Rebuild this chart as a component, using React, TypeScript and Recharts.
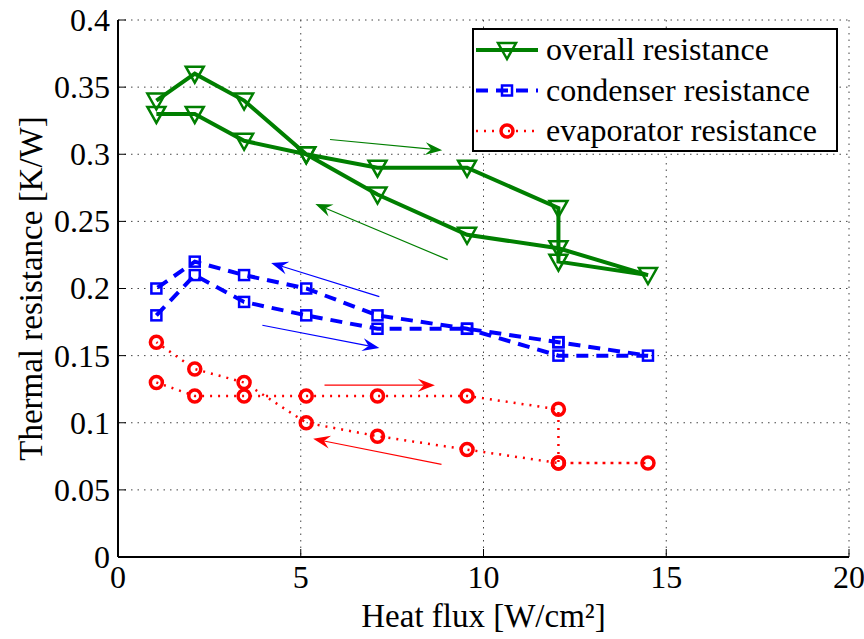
import { LineChart, Line, XAxis, YAxis, CartesianGrid, Legend, ReferenceLine } from 'recharts';

// heat flux sweep: up from ~1 to 14.5 W/cm², then back down
const heatFlux = [1.05, 2.1, 3.45, 5.15, 7.1, 9.55, 12.05, 12.05, 14.5, 12.05, 9.55, 7.1, 5.15, 3.45, 2.1, 1.05];
const overallRes = [0.33, 0.33, 0.31, 0.3, 0.29, 0.29, 0.26, 0.22, 0.21, 0.23, 0.24, 0.27, 0.3, 0.34, 0.36, 0.34];
const condenserRes = [0.18, 0.21, 0.19, 0.18, 0.17, 0.17, 0.16, 0.16, 0.15, 0.15, 0.17, 0.18, 0.2, 0.21, 0.22, 0.2];
const evaporatorRes = [0.13, 0.12, 0.12, 0.12, 0.12, 0.12, 0.11, 0.07, 0.07, 0.07, 0.08, 0.09, 0.1, 0.13, 0.14, 0.16];

const xTicks = [0, 5, 10, 15, 20];
const yTicks = [0, 0.05, 0.1, 0.15, 0.2, 0.25, 0.3, 0.35, 0.4];

// direction arrows [x1, y1, x2, y2] in data units
const overallArrows = [[5.8, 0.311, 8.87, 0.303], [9.02, 0.2215, 5.4, 0.263]];
const condenserArrows = [[7.15, 0.194, 4.19, 0.219], [3.95, 0.1726, 7.15, 0.1557]];
const evaporatorArrows = [[5.65, 0.128, 8.67, 0.128], [8.85, 0.069, 5.34, 0.088]];

const GREEN = '#007f00';
const BLUE = '#0000ff';
const RED = '#ff0000';
const FONT = 'Liberation Serif, Times New Roman, serif';
const txt = (size: number) => ({ fontFamily: FONT, fontSize: size, fill: '#000' });

const toPoints = (ys: number[]) => heatFlux.map((x, i) => ({ x, y: ys[i] }));

const TriDown = ({ cx, cy, color }: any) => (
  <polygon
    points={`${cx - 9},${cy - 7} ${cx + 9},${cy - 7} ${cx},${cy + 9}`}
    fill="none"
    stroke={color}
    strokeWidth={2.5}
  />
);
const Square = ({ cx, cy, color }: any) => (
  <rect x={cx - 5} y={cy - 5} width={10} height={10} fill="none" stroke={color} strokeWidth={2.5} />
);
const Ring = ({ cx, cy, color }: any) => (
  <circle cx={cx} cy={cy} r={6} fill="none" stroke={color} strokeWidth={3.5} />
);

const arrowShape = (color: string) => (props: any) => {
  const { x1, y1, x2, y2 } = props;
  const dx = x2 - x1;
  const dy = y2 - y1;
  const len = Math.sqrt(dx * dx + dy * dy) || 1;
  const ux = dx / len;
  const uy = dy / len;
  const px = -uy;
  const py = ux;
  const head = 17;
  const half = 6.5;
  const notch = 11;
  const pts = [
    [x2, y2],
    [x2 - ux * head + px * half, y2 - uy * head + py * half],
    [x2 - ux * notch, y2 - uy * notch],
    [x2 - ux * head - px * half, y2 - uy * head - py * half],
  ]
    .map((p) => p.join(','))
    .join(' ');
  return (
    <g>
      <line x1={x1} y1={y1} x2={x2 - ux * notch} y2={y2 - uy * notch} stroke={color} strokeWidth={1.2} />
      <polygon points={pts} fill={color} />
    </g>
  );
};

const XTick = (p: any) => (
  <text x={p.x} y={p.y} dy="0.72em" textAnchor="middle" style={txt(32)}>
    {p.payload.value}
  </text>
);
const YTick = (p: any) => (
  <text x={p.x} y={p.y} dy="0.34em" textAnchor="end" style={txt(32)}>
    {p.payload.value}
  </text>
);

const legendRows = [
  { label: 'overall resistance', color: GREEN, dash: undefined, width: 4, Marker: TriDown },
  { label: 'condenser resistance', color: BLUE, dash: '12 8', width: 4, Marker: Square },
  { label: 'evaporator resistance', color: RED, dash: '2 6', width: 2.5, Marker: Ring },
];

const LegendBox = () => (
  <svg width={366} height={124} style={{ display: 'block' }}>
    <rect x={1} y={1} width={364} height={122} fill="#fff" stroke="#000" strokeWidth={2} />
    {legendRows.map((r, i) => {
      const cy = 22 + i * 40.5;
      return (
        <g key={i}>
          <line x1={4} y1={cy} x2={66} y2={cy} stroke={r.color} strokeWidth={r.width} strokeDasharray={r.dash} />
          <r.Marker cx={35} cy={cy} color={r.color} />
          <text x={74} y={cy + 10} style={txt(32)}>
            {r.label}
          </text>
        </g>
      );
    })}
  </svg>
);

export default function App() {
  return (
    <div style={{ position: 'absolute', left: 0, top: 0, background: '#fff' }}>
      <LineChart width={864} height={639} margin={{ top: 20, right: 15, bottom: 0, left: 0 }}>
        <CartesianGrid stroke="#444" strokeDasharray="1.5 5" strokeWidth={1} />
        <XAxis
          dataKey="x"
          type="number"
          domain={[0, 20]}
          ticks={xTicks}
          height={82}
          tickSize={-8}
          tickMargin={16}
          tick={XTick}
          axisLine={{ stroke: '#000', strokeWidth: 2 }}
          tickLine={{ stroke: '#000', strokeWidth: 1 }}
          allowDataOverflow
          label={{
            value: 'Heat flux [W/cm²]',
            position: 'insideBottom',
            offset: 12,
            style: txt(33),
          }}
        />
        <XAxis
          xAxisId="top"
          orientation="top"
          type="number"
          domain={[0, 20]}
          ticks={xTicks}
          height={0}
          tickSize={-8}
          tickFormatter={() => ''}
          axisLine={{ stroke: '#000', strokeWidth: 1.5 }}
          tickLine={{ stroke: '#000', strokeWidth: 1 }}
        />
        <YAxis
          type="number"
          domain={[0, 0.4]}
          ticks={yTicks}
          width={118}
          tickSize={-8}
          tickMargin={16}
          tick={YTick}
          axisLine={{ stroke: '#000', strokeWidth: 2 }}
          tickLine={{ stroke: '#000', strokeWidth: 1 }}
          allowDataOverflow
          label={{
            value: 'Thermal resistance [K/W]',
            angle: -90,
            position: 'center',
            dx: -29,
            style: { ...txt(33), textAnchor: 'middle' },
          }}
        />
        <YAxis
          yAxisId="right"
          orientation="right"
          type="number"
          domain={[0, 0.4]}
          ticks={yTicks}
          width={0}
          tickSize={-8}
          tickFormatter={() => ''}
          axisLine={{ stroke: '#000', strokeWidth: 1.5 }}
          tickLine={{ stroke: '#000', strokeWidth: 1 }}
        />
        <Line
          data={toPoints(overallRes)}
          dataKey="y"
          name="overall resistance"
          stroke={GREEN}
          strokeWidth={4}
          isAnimationActive={false}
          dot={(p: any) => <TriDown key={`o${p.index}`} cx={p.cx} cy={p.cy} color={GREEN} />}
          activeDot={false}
        />
        <Line
          data={toPoints(condenserRes)}
          dataKey="y"
          name="condenser resistance"
          stroke={BLUE}
          strokeWidth={4}
          strokeDasharray="12 8"
          isAnimationActive={false}
          dot={(p: any) => <Square key={`c${p.index}`} cx={p.cx} cy={p.cy} color={BLUE} />}
          activeDot={false}
        />
        <Line
          data={toPoints(evaporatorRes)}
          dataKey="y"
          name="evaporator resistance"
          stroke={RED}
          strokeWidth={2.5}
          strokeDasharray="2 6"
          isAnimationActive={false}
          dot={(p: any) => <Ring key={`e${p.index}`} cx={p.cx} cy={p.cy} color={RED} />}
          activeDot={false}
        />
        {overallArrows.map((a, i) => (
          <ReferenceLine key={`ga${i}`} segment={[{ x: a[0], y: a[1] }, { x: a[2], y: a[3] }]} shape={arrowShape(GREEN)} />
        ))}
        {condenserArrows.map((a, i) => (
          <ReferenceLine key={`ba${i}`} segment={[{ x: a[0], y: a[1] }, { x: a[2], y: a[3] }]} shape={arrowShape(BLUE)} />
        ))}
        {evaporatorArrows.map((a, i) => (
          <ReferenceLine key={`ra${i}`} segment={[{ x: a[0], y: a[1] }, { x: a[2], y: a[3] }]} shape={arrowShape(RED)} />
        ))}
        <Legend
          layout="vertical"
          align="center"
          verticalAlign="middle"
          wrapperStyle={{ left: 472, top: 28, width: 366, height: 124 }}
          content={() => <LegendBox />}
        />
      </LineChart>
    </div>
  );
}
